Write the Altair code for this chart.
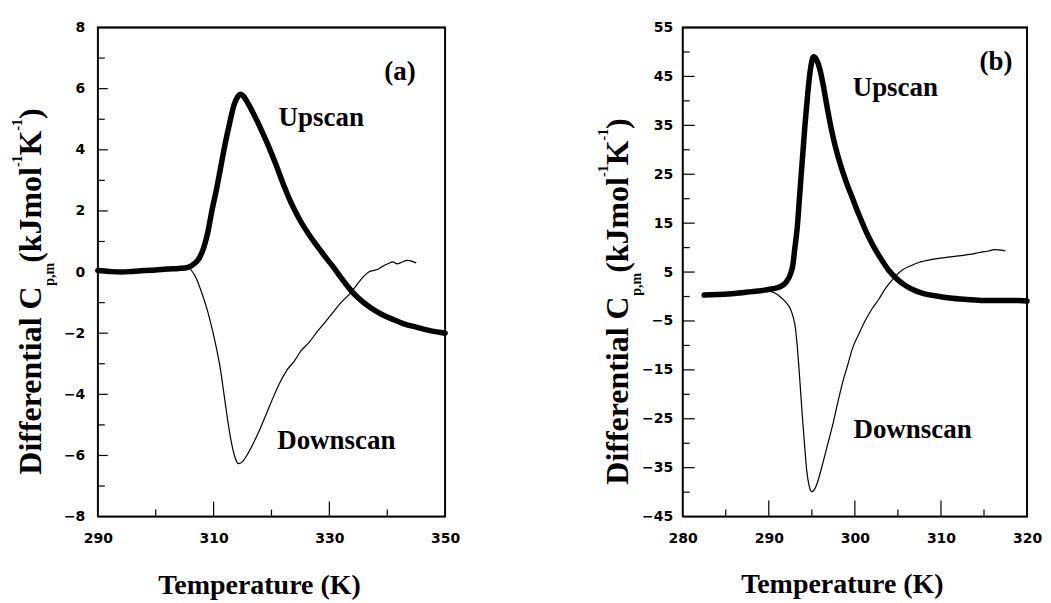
import altair as alt
import pandas as pd

# ---------------- data ----------------
# Panel (a)
a_up_T = [290, 292, 294, 296, 298, 300, 302, 304, 305.5, 306.5, 307.5, 308.3, 309, 309.7,
          310.5, 311.2, 312, 312.8, 313.5, 314.2, 314.7, 315.3, 316, 316.9, 318, 319.3,
          320.7, 322.1, 323.5, 325, 326.5, 328, 329.4, 330.7, 332, 333.5, 335, 337, 339, 341,
          343, 345, 347, 349, 350]
a_up_v = [0.05, 0.02, 0.0, 0.02, 0.05, 0.07, 0.1, 0.12, 0.15, 0.25, 0.45, 0.8, 1.3, 2.0,
          2.7, 3.4, 4.2, 4.9, 5.45, 5.75, 5.82, 5.72, 5.5, 5.18, 4.75, 4.2,
          3.55, 2.85, 2.22, 1.67, 1.22, 0.82, 0.47, 0.16, -0.18, -0.55, -0.85, -1.15, -1.38, -1.55,
          -1.7, -1.8, -1.9, -1.97, -2.0]
a_dn_T = [306, 307, 308, 309, 309.8, 310.5, 311.2, 311.8, 312.4, 313, 313.6, 314.3, 315,
          315.9, 317, 318.1, 319.2, 320.3, 321.5, 322.7, 324, 325, 326.5, 327.9, 329, 330.7,
          332, 333.6, 334.8, 335.9, 336.8, 337.6, 338.5, 339.3, 340.2, 341, 341.7, 342.5,
          343.4, 344.2, 345]
a_dn_v = [0.1, -0.2, -0.7, -1.3, -1.9, -2.5, -3.2, -4.0, -4.8, -5.5, -6.0, -6.27, -6.2,
          -5.95, -5.55, -5.1, -4.6, -4.1, -3.6, -3.2, -2.9, -2.6, -2.3, -1.95, -1.7, -1.3,
          -1.0, -0.7, -0.4, -0.15, 0.0, 0.05, 0.1, 0.2, 0.28, 0.33, 0.27, 0.32,
          0.38, 0.36, 0.3]

# Panel (b)
b_up_T = [282.5, 284, 286, 288, 289.5, 290.5, 291.3, 292, 292.5, 292.8, 293, 293.3, 293.6,
          293.9, 294.2, 294.5, 294.8, 295.2, 295.6, 296, 296.4, 296.8, 297.2, 297.6, 298,
          298.5, 299, 299.7, 300.5, 301.2, 302, 303, 304, 305, 306, 307, 308, 309.5, 311, 313,
          315, 317, 319, 320]
b_up_v = [0.3, 0.4, 0.6, 1.0, 1.3, 1.6, 2.0, 2.9, 4.5, 6.5, 9.5, 14, 21,
          28, 35, 41, 46, 49, 48.2, 46, 42.5, 38.5, 34.8, 31.6, 28.9,
          26, 23.4, 20.2, 16.6, 13.7, 10.8, 7.8, 5.2, 3.4, 2.1, 1.2, 0.6, 0.1, -0.3, -0.6,
          -0.8, -0.8, -0.8, -0.9]
b_dn_T = [288, 289.5, 290.3, 291, 291.6, 292, 292.5, 292.8, 293.1, 293.3, 293.5, 293.7,
          293.9, 294.1, 294.4, 294.7, 295, 295.3, 295.6, 296.2, 296.8, 297.4, 298, 298.6,
          299.2, 299.7, 300.5, 301.3, 302, 302.8, 303.5, 304.5, 305.5, 306.5, 307.5, 309,
          310.6, 312, 313.3, 314.5, 315.5, 316.2, 317, 317.5]
b_dn_v = [1.0, 1.2, 1.0, 0.4, -0.5, -1.2, -2.5, -4, -6.5, -10, -14.5, -19.5,
          -24.5, -29, -35.5, -38.8, -39.9, -39.5, -38.3, -34.6, -30.5, -26.4, -21.8, -17.4,
          -13.8, -10.7, -7.5, -4.6, -2.5, -0.5, 1.5, 3.7, 5.4, 6.3, 7.0, 7.6,
          8.0, 8.3, 8.6, 9.0, 9.3, 9.6, 9.5, 9.3]

# axis domains, ticks and labels
a_x_domain = [290, 350]
a_y_domain = [-8, 8]
a_x_labels = [290, 310, 330, 350]
a_x_major = [310, 330]
a_x_minor = [300, 320, 340]
a_y_labels = [-8, -6, -4, -2, 0, 2, 4, 6, 8]
a_y_major = [-6, -4, -2, 0, 2, 4, 6]
a_y_minor = [-7, -5, -3, -1, 1, 3, 5, 7]

b_x_domain = [280, 320]
b_y_domain = [-45, 55]
b_x_labels = [280, 290, 300, 310, 320]
b_x_major = [290, 300, 310]
b_x_minor = [285, 295, 305, 315]
b_y_labels = [-45, -35, -25, -15, -5, 5, 15, 25, 35, 45, 55]
b_y_major = [-35, -25, -15, -5, 5, 15, 25, 35, 45]
b_y_minor = [-40, -30, -20, -10, 0, 10, 20, 30, 40, 50]

# annotations (label, T, value)
a_ann_text = ["(a)", "Upscan", "Downscan"]
a_ann_T = [342.2, 328.6, 331.2]
a_ann_v = [6.56, 5.05, -5.54]
b_ann_text = ["(b)", "Upscan", "Downscan"]
b_ann_T = [316.4, 304.7, 306.7]
b_ann_v = [47.9, 42.6, -27.2]

# ---------------- helpers ----------------
SERIF = "Liberation Serif"
SANS = "DejaVu Sans"
H = 490
W_A, W_B = 348, 345

# Times-Bold advance widths (per 1000 em) for laying out the rich y title
TB = {"D": 722, "i": 278, "f": 333, "e": 444, "r": 444, "n": 556, "t": 333, "a": 500,
      "l": 278, " ": 250, "C": 722, "p": 556, ",": 250, "m": 833, "(": 333, "k": 556,
      "J": 500, "o": 500, "-": 333, "1": 500, "K": 778, ")": 333}


def tw(s, size):
    return sum(TB[c] for c in s) / 1000.0 * size


one = pd.DataFrame({"k": [0]})


def ytitle(start, base_x, sub_x, sup_x):
    pieces = [("Differential C", 32, base_x), ("p,m", 14, sub_x), ("(kJmol", 32, base_x),
              ("-1", 14, sup_x), ("K", 32, base_x), ("-1", 14, sup_x), (")", 32, base_x)]
    layers = []
    y = start
    for text, size, bx in pieces:
        layers.append(
            alt.Chart(one).mark_text(text=text, angle=270, align="left", baseline="alphabetic",
                                     font=SERIF, fontWeight="bold", fontSize=size, color="black")
            .encode(x=alt.value(bx), y=alt.value(y))
        )
        y -= tw(text, size)
    return layers


def panel(up_T, up_v, dn_T, dn_v, xdom, ydom, xlab, xmaj, xmin, ylab, ymaj, ymin,
          ann_text, ann_T, ann_v, width, ylabpad, xmajlen, ymajlen, title_cfg, xt_cfg, bound_x):
    X = alt.X("T:Q", scale=alt.Scale(domain=xdom, nice=False, zero=False),
              axis=alt.Axis(values=xlab, title=None, ticks=False, domain=False, grid=False,
                            labelPadding=15, labelFont=SANS, labelFontWeight="bold",
                            labelFontSize=14, labelColor="black", labelFlush=False,
                            labelOverlap=False, format="d"))
    Y = alt.Y("v:Q", scale=alt.Scale(domain=ydom, nice=False, zero=False),
              axis=alt.Axis(values=ylab, title=None, ticks=False, domain=False, grid=False,
                            labelPadding=ylabpad, labelFont=SANS, labelFontWeight="bold",
                            labelFontSize=14, labelColor="black", labelFlush=False,
                            labelOverlap=False, format="d"))

    # plot frame: a closed path through the four corners of the domain
    corners = pd.DataFrame({
        "T": [xdom[0], xdom[0], xdom[1], xdom[1], xdom[0]],
        "v": [ydom[0], ydom[1], ydom[1], ydom[0], ydom[0]],
        "i": [0, 1, 2, 3, 4],
    })
    box = alt.Chart(corners).mark_line(color="black", strokeWidth=1.8, strokeJoin="miter",
                                       interpolate="linear").encode(
        x=X, y=Y, order=alt.Order("i:Q"))

    up = alt.Chart(pd.DataFrame({"T": up_T, "v": up_v})).mark_line(
        color="black", strokeWidth=5.5, strokeCap="round", strokeJoin="round",
        interpolate="monotone").encode(x=X, y=Y)
    dn = alt.Chart(pd.DataFrame({"T": dn_T, "v": dn_v})).mark_line(
        color="black", strokeWidth=1.2, interpolate="monotone").encode(x=X, y=Y)

    xmaj_l = alt.Chart(pd.DataFrame({"T": xmaj})).mark_rule(color="black", strokeWidth=1.2).encode(
        x=X, y=alt.value(H), y2=alt.value(H - xmajlen))
    xmin_l = alt.Chart(pd.DataFrame({"T": xmin})).mark_rule(color="black", strokeWidth=1.2).encode(
        x=X, y=alt.value(H), y2=alt.value(H - 7))
    ymaj_l = alt.Chart(pd.DataFrame({"v": ymaj})).mark_rule(color="black", strokeWidth=1.2).encode(
        y=Y, x=alt.value(0), x2=alt.value(ymajlen))
    ymin_l = alt.Chart(pd.DataFrame({"v": ymin})).mark_rule(color="black", strokeWidth=1.2).encode(
        y=Y, x=alt.value(0), x2=alt.value(7))

    ann = alt.Chart(pd.DataFrame({"T": ann_T, "v": ann_v, "label": ann_text})).mark_text(
        font=SERIF, fontWeight="bold", fontSize=27, color="black", align="center",
        baseline="middle").encode(x=X, y=Y, text="label:N")

    xt = alt.Chart(one).mark_text(text="Temperature (K)", font=SERIF, fontWeight="bold",
                                  fontSize=28, color="black", align="center",
                                  baseline="alphabetic").encode(
        x=alt.value(xt_cfg[0]), y=alt.value(xt_cfg[1]))

    bound = alt.Chart(one).mark_rule(color="white", strokeWidth=0.5).encode(
        x=alt.value(bound_x), y=alt.value(-26), y2=alt.value(577))

    layers = ([bound, box, up, dn, xmaj_l, xmin_l, ymaj_l, ymin_l, ann, xt]
              + ytitle(*title_cfg))
    return alt.layer(*layers).properties(width=width, height=H)


pa = panel(a_up_T, a_up_v, a_dn_T, a_dn_v, a_x_domain, a_y_domain,
           a_x_labels, a_x_major, a_x_minor, a_y_labels, a_y_major, a_y_minor,
           a_ann_text, a_ann_T, a_ann_v, W_A, 13, 15, 10,
           (448, -57, -44, -76), (162, 568), -97)
pb = panel(b_up_T, b_up_v, b_dn_T, b_dn_v, b_x_domain, b_y_domain,
           b_x_labels, b_x_major, b_x_minor, b_y_labels, b_y_major, b_y_minor,
           b_ann_text, b_ann_T, b_ann_v, W_B, 10, 16, 12,
           (458, -55, -42, -75), (160, 567), 368)

chart = alt.hconcat(pa, pb, spacing=238, bounds="flush").properties(
    padding=0, background="white"
).configure_view(stroke="black", strokeWidth=1.5)

chart.save("out.html", embed_options={"renderer": "svg", "actions": False})
